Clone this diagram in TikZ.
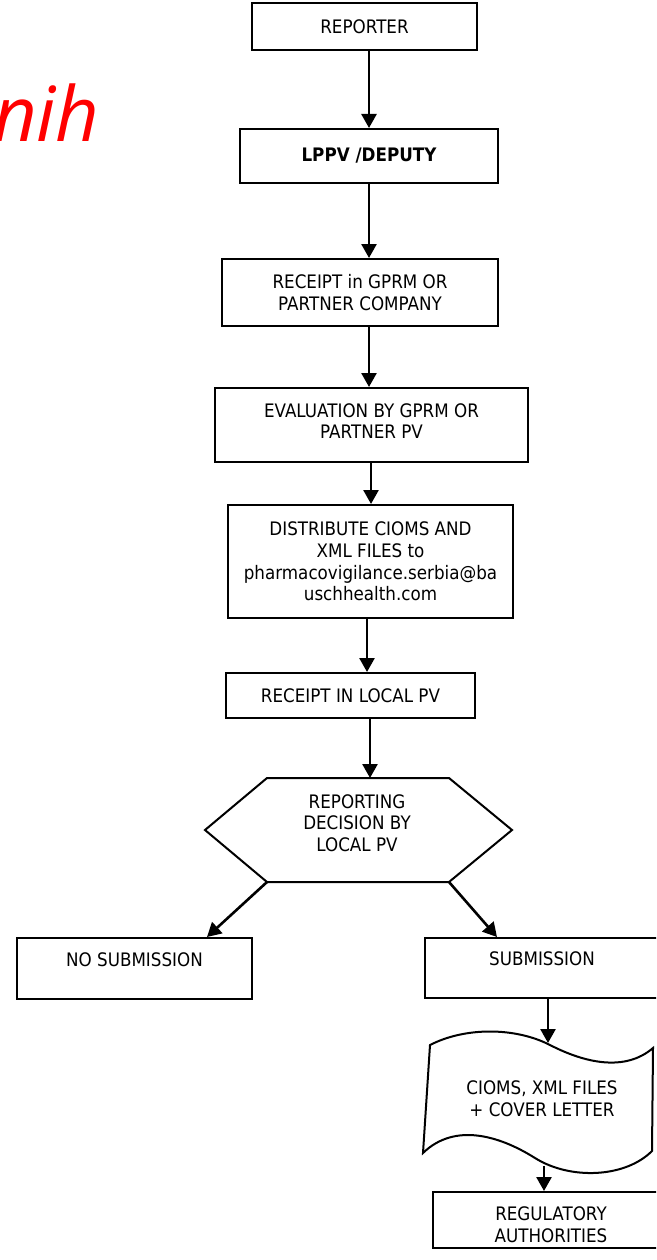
\documentclass[tikz,border=0pt]{standalone}
\usepackage{fontspec}
\setmainfont{DejaVu Sans}[FakeStretch=0.9]
\newfontfamily\nihfont{Open Sans}
\usetikzlibrary{arrows.meta,calc}
\tikzset{
  box/.style={draw=black,line width=2pt,inner sep=0pt,align=center,
    font=\fontsize{18.6}{21.7}\selectfont},
  lbl/.style={inner sep=0pt,align=center,font=\fontsize{18.6}{21.7}\selectfont},
  outline/.style={draw=black,line width=2pt,line join=miter},
  arr/.style={line width=2.6pt,-{Triangle[length=14pt,width=15pt]}}
}
\begin{document}
\begin{tikzpicture}[x=1pt,y=-1pt]
\useasboundingbox (0,0) rectangle (656,1260);
\clip (0,0) rectangle (656,1260);
\fill[white] (0,0) rectangle (656,1260);

% red fragment
\node[anchor=base east,inner sep=0pt,text=red,font=\nihfont\itshape\fontsize{76}{80}\selectfont] (nih) at (100,142) {nih};

% boxes
\node[box,minimum width=225pt,minimum height=47pt] (rep) at (364.5,26.5) {REPORTER};
\node[box,minimum width=258pt,minimum height=54pt,font=\fontsize{18.6}{21.7}\selectfont\bfseries] (lppv) at (369,156) {LPPV /DEPUTY};
\node[box,minimum width=276pt,minimum height=67pt] (rgprm) at (360,292.5) {RECEIPT in GPRM OR\\PARTNER COMPANY};
\node[box,minimum width=313pt,minimum height=74pt] (eval) at (371.5,425) {};
\node[lbl] (evaltxt) at (371.5,421) {EVALUATION BY GPRM OR\\PARTNER PV};
\node[box,minimum width=285pt,minimum height=113pt] (dist) at (370.5,561.5) {DISTRIBUTE CIOMS AND\\XML FILES to\\pharmacovigilance.serbia@ba\\uschhealth.com};
\node[box,minimum width=249pt,minimum height=45pt] (rlocal) at (350.5,695.5) {RECEIPT IN LOCAL PV};

% decision hexagon
\coordinate (hexW) at (205,830);
\coordinate (hexNW) at (267,778);
\coordinate (hexNE) at (449,778);
\coordinate (hexE) at (512,830);
\coordinate (hexSE) at (449,882);
\coordinate (hexSW) at (267,882);
\coordinate (hexN) at (370,778);
\draw[outline] (hexW) -- (hexNW) -- (hexNE) -- (hexE) -- (hexSE) -- (hexSW) -- cycle;
\node[lbl] (hex) at (357,823) {REPORTING\\DECISION BY\\LOCAL PV};

% outcome boxes
\node[box,minimum width=235pt,minimum height=61pt] (nosub) at (134.5,968.5) {};
\node[lbl] (nosubtxt) at (134.5,960) {NO SUBMISSION};
\node[box,minimum width=234pt,minimum height=60pt] (sub) at (542,968) {};
\node[lbl] (subtxt) at (542,959) {SUBMISSION};

% document shape
\coordinate (dTL) at (430,1045);
\coordinate (dTR) at (653,1048);
\coordinate (dBR) at (652,1151);
\coordinate (dBL) at (423,1153);
\coordinate (docTop) at (548,1043);
\coordinate (docBot) at (544,1166);
\draw[outline] (dTL) .. controls (465,1027) and (515,1027) .. (550,1045)
  .. controls (585,1063) and (625,1072) .. (dTR)
  -- (dBR)
  .. controls (625,1178) and (570,1180) .. (535,1158)
  .. controls (500,1136) and (455,1122) .. (dBL) -- cycle;
\node[lbl] (doc) at (542,1099) {CIOMS, XML FILES\\+ COVER LETTER};

\node[box,minimum width=236pt,minimum height=56pt] (reg) at (551,1220) {};
\node[lbl] (regtxt) at (551,1225) {REGULATORY\\AUTHORITIES};

% connectors
\draw[arr] (369,0 |- rep.south) -- (369,0 |- lppv.north);
\draw[arr] (369,0 |- lppv.south) -- (369,0 |- rgprm.north);
\draw[arr] (369,0 |- rgprm.south) -- (369,0 |- eval.north);
\draw[arr] (371,0 |- eval.south) -- (371,0 |- dist.north);
\draw[arr] (367,0 |- dist.south) -- (367,0 |- rlocal.north);
\draw[arr] (370,0 |- rlocal.south) -- (hexN);
\draw[arr] (hexSW) -- (207,0 |- nosub.north);
\draw[arr] (hexSE) -- (497,0 |- sub.north);
\draw[arr] (548,0 |- sub.south) -- (docTop);
\draw[arr] (docBot) -- (544,0 |- reg.north);
\end{tikzpicture}
\end{document}
